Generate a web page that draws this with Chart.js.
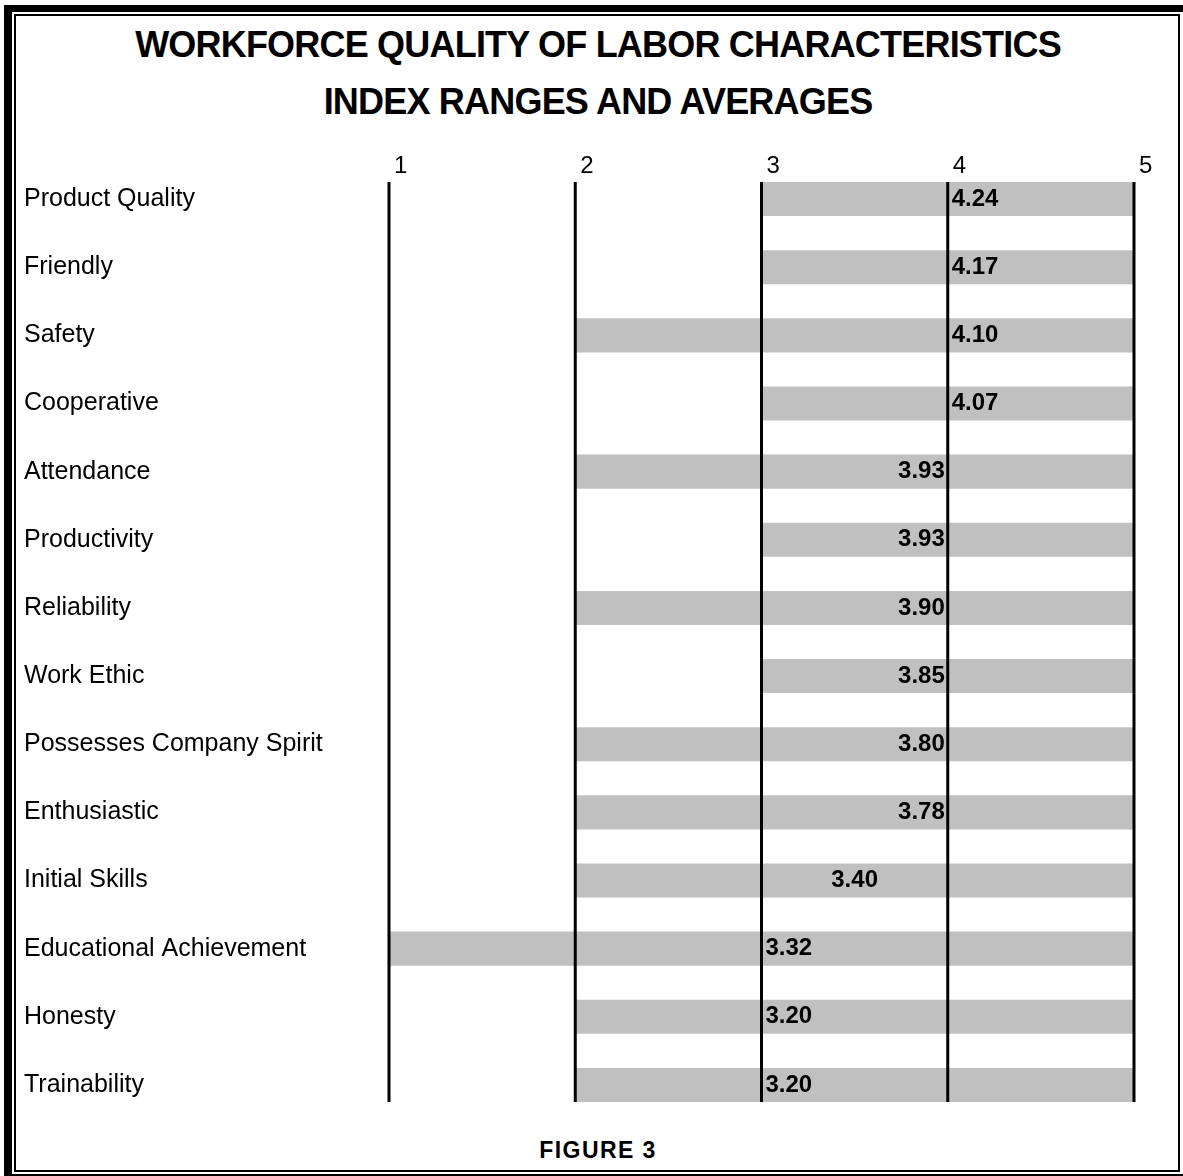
<!DOCTYPE html>
<html>
<head>
<meta charset="utf-8">
<script src="https://cdn.jsdelivr.net/npm/chart.js@4/dist/chart.umd.min.js"></script>
<style>
  body { margin: 0; background: #fff; width: 1183px; height: 1176px; overflow: hidden; position: relative; font-family: "Liberation Sans", Arial, sans-serif; }
  #outer { position: absolute; left: 4px; top: 5px; width: 1190px; height: 1176px; box-sizing: border-box; border: 7px solid #000; border-left-width: 8px; }
  #inner { position: absolute; left: 14px; top: 14px; width: 1166px; height: 1158px; box-sizing: border-box; border: 2px solid #000; }
  #title { position: absolute; left: 14px; top: 16px; width: 1168px; text-align: center; font-weight: bold; font-size: 36px; line-height: 57px; letter-spacing: -0.8px; color: #000; }
  #figure { position: absolute; left: 14px; top: 1135px; width: 1168px; text-align: center; font-weight: bold; font-size: 23px; line-height: 30px; letter-spacing: 1.4px; color: #000; }
  #wrap { position: absolute; left: 0; top: 130px; width: 1183px; height: 1004px; }
</style>
</head>
<body>
<div id="outer"></div>
<div id="inner"></div>
<div id="title">WORKFORCE QUALITY OF LABOR CHARACTERISTICS<br>INDEX RANGES AND AVERAGES</div>
<div id="wrap"><canvas id="chart"></canvas></div>
<div id="figure">FIGURE 3</div>
<script>
const categories = ['Product Quality', 'Friendly', 'Safety', 'Cooperative', 'Attendance', 'Productivity',
  'Reliability', 'Work Ethic', 'Possesses Company Spirit', 'Enthusiastic', 'Initial Skills',
  'Educational Achievement', 'Honesty', 'Trainability'];
const rangeLow = [3, 3, 2, 3, 2, 3, 2, 3, 2, 2, 2, 1, 2, 2];
const rangeHigh = [5, 5, 5, 5, 5, 5, 5, 5, 5, 5, 5, 5, 5, 5];
const averages = [4.24, 4.17, 4.10, 4.07, 3.93, 3.93, 3.90, 3.85, 3.80, 3.78, 3.40, 3.32, 3.20, 3.20];
const tickValues = [1, 2, 3, 4, 5];

const FONT = '"Liberation Sans", Arial, sans-serif';

// vertical rules, top tick labels and the average labels
const overlay = {
  id: 'overlay',
  afterDatasetsDraw(chart) {
    const ctx = chart.ctx;
    const x = chart.scales.x;
    const y = chart.scales.y;
    const bars = chart.getDatasetMeta(0).data;
    const half = bars[0].height / 2;
    const top = y.getPixelForValue(0) - half;
    const bottom = y.getPixelForValue(categories.length - 1) + half;
    ctx.save();
    ctx.strokeStyle = '#000';
    ctx.lineWidth = 3;
    tickValues.forEach(t => {
      const px = x.getPixelForValue(t);
      ctx.beginPath();
      ctx.moveTo(px, top);
      ctx.lineTo(px, bottom);
      ctx.stroke();
    });

    ctx.fillStyle = '#000';
    ctx.textBaseline = 'middle';
    ctx.textAlign = 'left';
    ctx.font = '24px ' + FONT;
    tickValues.forEach(t => {
      ctx.fillText(String(t), x.getPixelForValue(t) + 5, chart.chartArea.top + 1);
    });

    ctx.font = 'bold 24px ' + FONT;
    averages.forEach((v, i) => {
      const py = y.getPixelForValue(i);
      const base = Math.floor(v);
      const frac = v - base;
      let px;
      if (frac < 0.35) {
        ctx.textAlign = 'left';
        px = x.getPixelForValue(base) + 4;
      } else if (frac > 0.75) {
        ctx.textAlign = 'right';
        px = x.getPixelForValue(base + 1) - 3;
      } else {
        ctx.textAlign = 'center';
        px = x.getPixelForValue(base + 0.5);
      }
      ctx.fillText(v.toFixed(2), px, py);
    });
    ctx.restore();
  }
};

new Chart(document.getElementById('chart'), {
  type: 'bar',
  data: {
    labels: categories,
    datasets: [{
      label: 'Range',
      data: categories.map((c, i) => [rangeLow[i], rangeHigh[i]]),
      backgroundColor: '#c0c0c0',
      borderWidth: 0,
      barPercentage: 0.5,
      categoryPercentage: 1.0
    }]
  },
  options: {
    indexAxis: 'y',
    responsive: true,
    maintainAspectRatio: false,
    animation: false,
    layout: { padding: { left: 24, right: 49, top: 35, bottom: 12 } },
    plugins: { legend: { display: false }, tooltip: { enabled: false } },
    scales: {
      x: { type: 'linear', min: 1, max: 5, display: false },
      y: {
        grid: { display: false },
        border: { display: false },
        ticks: { crossAlign: 'far', color: '#000', padding: 0, font: { family: FONT, size: 25 } },
        afterFit(scale) { scale.width = 365; }
      }
    }
  },
  plugins: [overlay]
});
</script>
</body>
</html>
